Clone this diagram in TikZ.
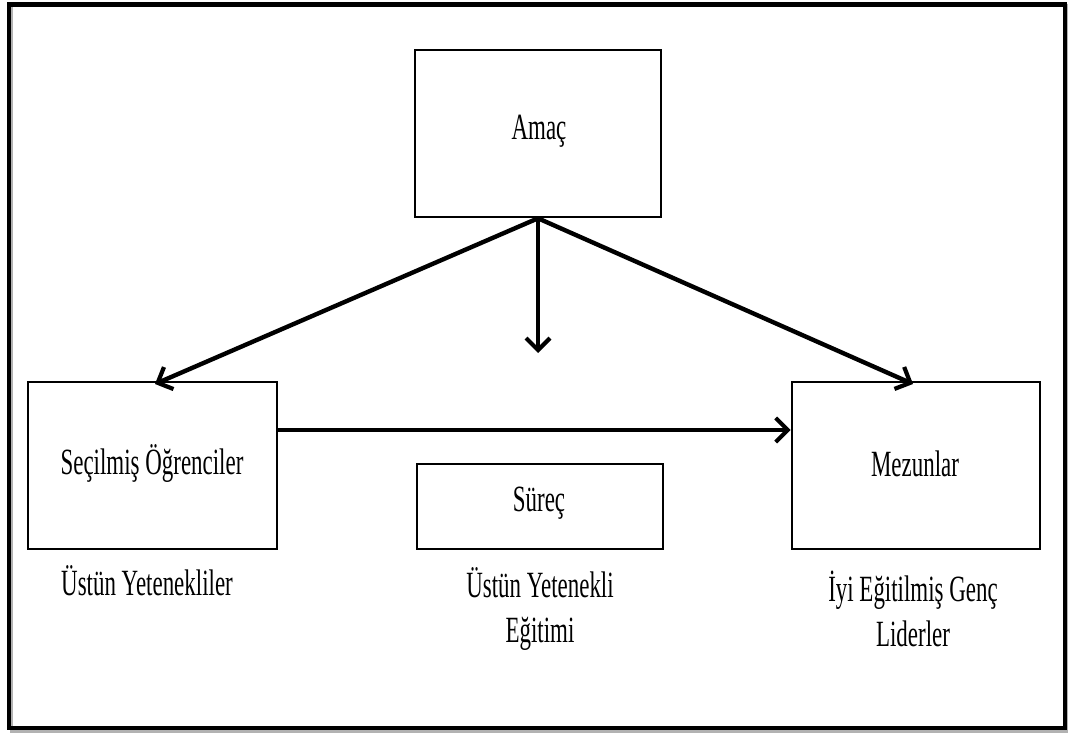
\documentclass[tikz,border=0pt]{standalone}
\usepackage{fontspec}
\setmainfont{Liberation Serif}[FakeStretch=0.62]
\usetikzlibrary{arrows.meta}
\begin{document}
\begin{tikzpicture}[x=1pt,y=-1pt,
  box/.style={draw,line width=2.6pt,inner sep=0pt},
  lbl/.style={font=\fontsize{37}{45}\selectfont,align=center,inner sep=0pt},
  arr/.style={line width=4.4pt,-{Straight Barb[length=12pt,width=24pt,line width=4.2pt]}}]
\useasboundingbox (0,0) rectangle (1068,733);
% frame with shadow
\draw[line width=3pt,gray!60] (11,6) rectangle (1067,731);
\draw[line width=4.5pt] (9,4.5) rectangle (1065,728);
% boxes
\node[box,minimum width=246pt,minimum height=167pt] (amac) at (538,133.5) {};
\node[box,minimum width=249pt,minimum height=167pt] (sec) at (152.5,465.5) {};
\node[box,minimum width=248pt,minimum height=167pt] (mez) at (916,465.5) {};
\node[box,minimum width=246pt,minimum height=85pt] (sur) at (540,506.5) {};
% texts
\node[lbl] (tamac) at (539,131) {Amaç};
\node[lbl] (tsec) at (152,464) {Seçilmiş Öğrenciler};
\node[lbl] (tmez) at (915,464) {Mezunlar};
\node[lbl] (tsur) at (539,503) {Süreç};
\node[lbl] (l1) at (147,581) {Üstün Yetenekliler};
\node[lbl] (l2) at (540,609) {Üstün Yetenekli\\Eğitimi};
\node[lbl] (l3) at (913,609) {İyi Eğitilmiş Genç\\Liderler};
% arrows
\coordinate (o) at (amac.south);
\coordinate (mid) at (538,353);
\draw[arr] (o) -- (155,384);
\draw[arr] (o) -- (mid);
\draw[arr] (o) -- (913,384);
\draw[arr] (sec.east|-0,430) -- (mez.west|-0,430);
\end{tikzpicture}
\end{document}
